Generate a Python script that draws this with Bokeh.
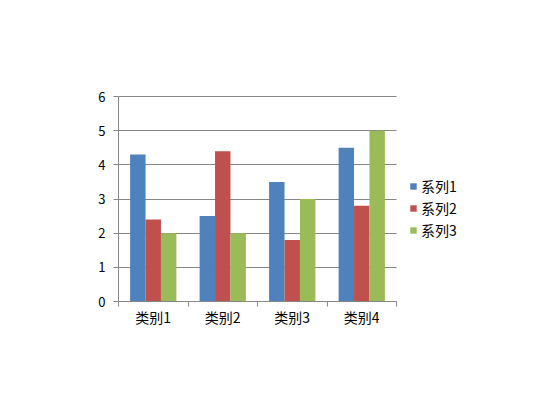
from bokeh.plotting import figure
from bokeh.models import Range1d, FixedTicker, Legend, LegendItem, ColumnDataSource
from bokeh.transform import dodge
from bokeh.embed import file_html
from bokeh.resources import INLINE

categories = ["类别1", "类别2", "类别3", "类别4"]
series_names = ["系列1", "系列2", "系列3"]
s1 = [4.3, 2.5, 3.5, 4.5]
s2 = [2.4, 4.4, 1.8, 2.8]
s3 = [2.0, 2.0, 3.0, 5.0]
y_ticks = [0, 1, 2, 3, 4, 5, 6]
colors = ["#4F81BD", "#C0504D", "#9BBB59"]

FONT = "Noto Sans CJK SC"
GRAY = "#868686"

n = len(categories)
xs = list(range(1, n + 1))
src = ColumnDataSource(dict(x=xs, s1=s1, s2=s2, s3=s3))

# frame widened to the right so the legend fits inside it; axis/grid bounded to the categories
FRAME_W = 400
PLOT_W = 278
x_end = 0.5 + n * FRAME_W / PLOT_W
y_max = y_ticks[-1]

p = figure(width=543, height=402, output_backend="svg", toolbar_location=None,
           x_range=Range1d(0.5, x_end), y_range=Range1d(0, y_max + 0.03),
           min_border_left=118, min_border_right=543 - 118 - FRAME_W, min_border_top=95,
           min_border_bottom=101)
p.outline_line_color = None

bw = 0.222
renderers = []
for i, (col, c) in enumerate(zip(["s1", "s2", "s3"], colors)):
    r = p.vbar(x=dodge("x", (i - 1) * bw, range=p.x_range), top=col, width=bw,
               source=src, fill_color=c, line_color=None)
    renderers.append(r)

# x axis
xa = p.xaxis[0]
xa.bounds = (0.5, n + 0.5)
xa.ticker = FixedTicker(ticks=xs, minor_ticks=[x - 0.5 for x in xs] + [xs[-1] + 0.5])
xa.major_label_overrides = {x: c for x, c in zip(xs, categories)}
xa.major_tick_out = 0
xa.major_tick_in = 0
xa.minor_tick_out = 5
xa.minor_tick_in = 0
xa.minor_tick_line_color = GRAY
xa.axis_line_color = GRAY
xa.major_label_text_font = FONT
xa.major_label_text_font_size = "14px"
xa.major_label_text_color = "#000000"
xa.major_label_standoff = 0

# y axis
ya = p.yaxis[0]
ya.bounds = (0, y_max)
ya.ticker = FixedTicker(ticks=y_ticks)
ya.major_tick_out = 5
ya.major_tick_in = 0
ya.minor_tick_out = 0
ya.minor_tick_in = 0
ya.major_tick_line_color = GRAY
ya.axis_line_color = GRAY
ya.major_label_text_font = FONT
ya.major_label_text_font_size = "13px"
ya.major_label_text_color = "#000000"
ya.major_label_standoff = 8

p.xgrid.visible = False
p.ygrid.ticker = FixedTicker(ticks=y_ticks)
p.ygrid.cross_bounds = (0.5, n + 0.5)
p.ygrid.grid_line_color = GRAY
p.ygrid.grid_line_width = 1

legend = Legend(items=[LegendItem(label=nm, renderers=[r]) for nm, r in zip(series_names, renderers)],
                location=(291, 61), orientation="vertical")
legend.border_line_color = None
legend.background_fill_alpha = 0
legend.padding = 0
legend.margin = 0
legend.spacing = 2
legend.glyph_width = 8
legend.glyph_height = 8
legend.label_height = 20
legend.label_standoff = 4
legend.label_text_font = FONT
legend.label_text_font_size = "14px"
legend.label_text_color = "#000000"
legend.label_text_baseline = "middle"
p.add_layout(legend, "center")

open("out.html", "w").write(file_html(p, INLINE))
